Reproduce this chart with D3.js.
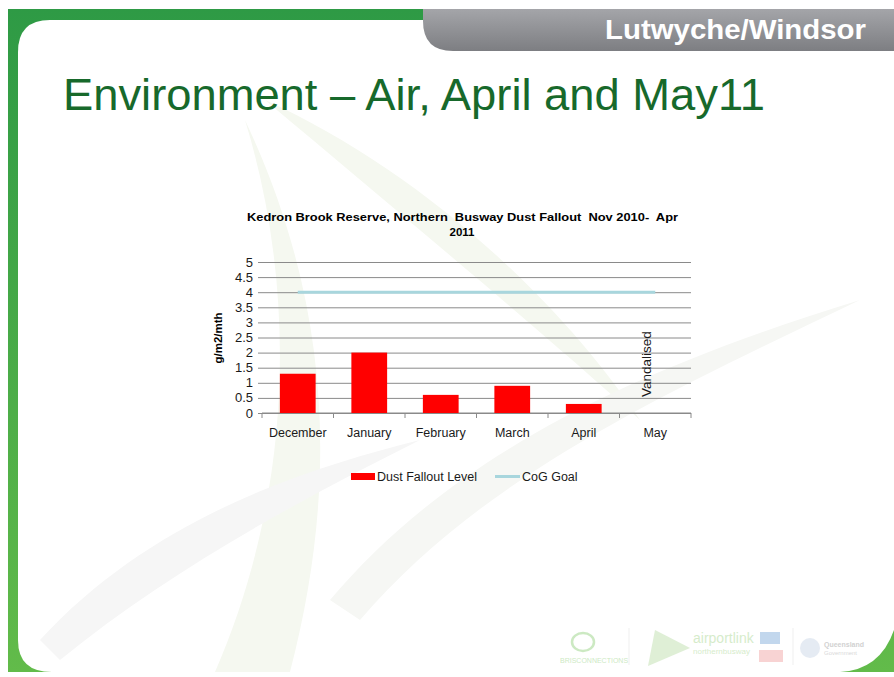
<!doctype html>
<html>
<head>
<meta charset="utf-8"/>
<title>Environment – Air, April and May11</title>
<script src="https://d3js.org/d3.v7.min.js"></script>
<style>
  body { margin: 0; background: #fff; }
  svg text { font-family: "Liberation Sans", Arial, sans-serif; }
</style>
</head>
<body>
<div id="slide"></div>
<script>
// chart data
var months = ["December", "January", "February", "March", "April", "May"];
var dust = [1.3, 2.0, 0.6, 0.9, 0.3, null];
var goal = [4, 4, 4, 4, 4, 4];
var yTicks = [0, 0.5, 1, 1.5, 2, 2.5, 3, 3.5, 4, 4.5, 5];
var notes = ["", "", "", "", "", "Vandalised"];

var W = 894, H = 677;
var svg = d3.select("#slide").append("svg")
    .attr("width", W)
    .attr("height", H);

// ---- slide background ----
var defs = svg.append("defs");
var gGreen = defs.append("linearGradient").attr("id", "gGreen")
    .attr("x1", 0).attr("y1", 0).attr("x2", 0).attr("y2", 1);
gGreen.append("stop").attr("offset", 0).attr("stop-color", "#2e9a45");
gGreen.append("stop").attr("offset", 1).attr("stop-color", "#62bb4a");
var gTab = defs.append("linearGradient").attr("id", "gTab")
    .attr("x1", 0).attr("y1", 0).attr("x2", 0).attr("y2", 1);
gTab.append("stop").attr("offset", 0).attr("stop-color", "#a4a5a9");
gTab.append("stop").attr("offset", 1).attr("stop-color", "#7d7e82");

svg.append("rect").attr("x", 8).attr("y", 9).attr("width", W - 8).attr("height", 663)
    .attr("fill", "url(#gGreen)");
// white inner panel
svg.append("path")
    .attr("d", "M18,52 Q18,20 50,20 L894,20 L894,630 Q880,670 840,672 L52,672 Q18,672 18,640 Z")
    .attr("fill", "#fff");

// faint leaf swooshes
var swoosh = svg.append("g").attr("fill", "#f5f8f0");
swoosh.append("path")
    .attr("d", "M245,120 C300,300 290,500 215,672 L290,672 C340,480 330,300 245,120 Z");
swoosh.append("path")
    .attr("d", "M265,100 C420,170 560,300 640,420 C540,330 420,230 265,100 Z");
swoosh.append("path")
    .attr("d", "M40,640 C150,520 300,470 420,440 C300,500 170,570 60,660 Z")
    .attr("fill", "#f6f6f6");
swoosh.append("path")
    .attr("d", "M330,600 C440,470 600,380 860,300 C650,400 480,480 360,620 Z")
    .attr("fill", "#f6f7f4");

// grey tab top right
svg.append("path")
    .attr("d", "M423,9 L894,9 L894,51 L453,51 Q423,51 423,21 Z")
    .attr("fill", "url(#gTab)");
svg.append("text")
    .attr("x", 605).attr("y", 39)
    .attr("fill", "#fff")
    .attr("font-size", 27).attr("font-weight", "bold")
    .attr("textLength", 261).attr("lengthAdjust", "spacingAndGlyphs")
    .text("Lutwyche/Windsor");

// slide title
svg.append("text")
    .attr("x", 63).attr("y", 110)
    .attr("fill", "#17692b")
    .attr("font-size", 44)
    .attr("textLength", 702).attr("lengthAdjust", "spacingAndGlyphs")
    .style("font-family", "'Liberation Sans Narrow', 'Arial Narrow', 'Liberation Sans', sans-serif")
    .text("Environment – Air, April and May11");

// footer logos (faint)
var foot = svg.append("g").attr("opacity", 0.45);
foot.append("ellipse").attr("cx", 583).attr("cy", 642).attr("rx", 11).attr("ry", 9)
    .attr("fill", "none").attr("stroke", "#8fcf7a").attr("stroke-width", 2.5);
foot.append("text").attr("x", 560).attr("y", 663).attr("font-size", 7)
    .attr("fill", "#8fcf7a").text("BRISCONNECTIONS");
foot.append("line").attr("x1", 629).attr("y1", 628).attr("x2", 629).attr("y2", 665)
    .attr("stroke", "#ddd");
foot.append("path").attr("d", "M648,666 L655,630 L690,648 Z").attr("fill", "#b9dca5");
foot.append("text").attr("x", 693).attr("y", 643).attr("font-size", 14)
    .attr("fill", "#a5d58c").text("airportlink");
foot.append("text").attr("x", 693).attr("y", 654).attr("font-size", 8)
    .attr("fill", "#a5d58c").text("northernbusway");
foot.append("rect").attr("x", 760).attr("y", 632).attr("width", 20).attr("height", 12)
    .attr("fill", "#7aa8d8");
foot.append("rect").attr("x", 759).attr("y", 650).attr("width", 24).attr("height", 12)
    .attr("fill", "#f0a0a0");
foot.append("line").attr("x1", 793).attr("y1", 628).attr("x2", 793).attr("y2", 665)
    .attr("stroke", "#ddd");
foot.append("circle").attr("cx", 810).attr("cy", 648).attr("r", 10).attr("fill", "#c7d4e6");
foot.append("text").attr("x", 824).attr("y", 647).attr("font-size", 7).attr("font-weight", "bold")
    .attr("fill", "#999").text("Queensland");
foot.append("text").attr("x", 824).attr("y", 655).attr("font-size", 6)
    .attr("fill", "#aaa").text("Government");

// ---- chart ----
var x = d3.scaleBand().domain(months).range([262, 691])
    .paddingInner(0.5).paddingOuter(0.25);
var y = d3.scaleLinear().domain([0, 5]).range([413, 262]);

var chart = svg.append("g");

// gridlines
chart.append("g")
    .attr("transform", "translate(262,0)")
    .call(d3.axisLeft(y).tickValues(yTicks).tickSize(-429).tickSizeOuter(0).tickFormat(""))
    .call(function(g) {
        g.select(".domain").remove();
        g.selectAll("line").attr("stroke", "#8a8a8a").attr("x1", -4);
    });

// y tick labels
chart.append("g")
    .selectAll("text").data(yTicks).join("text")
    .attr("x", 253).attr("y", function(d) { return y(d) + 4.5; })
    .attr("text-anchor", "end")
    .attr("font-size", 13).attr("fill", "#1a1a1a")
    .text(function(d) { return d; });

// x axis
var xAxis = chart.append("g").attr("transform", "translate(0,413)");
xAxis.append("line").attr("x1", 262).attr("x2", 691).attr("y1", 0).attr("y2", 0)
    .attr("stroke", "#8a8a8a");
xAxis.selectAll("line.tk").data(months.concat(["end"])).join("line")
    .attr("class", "tk")
    .attr("x1", function(d, i) { return i < months.length ? x(d) - x.step() * 0.25 : 691; })
    .attr("x2", function(d, i) { return i < months.length ? x(d) - x.step() * 0.25 : 691; })
    .attr("y1", 0).attr("y2", 5)
    .attr("stroke", "#8a8a8a");
xAxis.selectAll("text").data(months).join("text")
    .attr("x", function(d) { return x(d) + x.bandwidth() / 2; })
    .attr("y", 24)
    .attr("text-anchor", "middle")
    .attr("font-size", 12.5).attr("fill", "#1a1a1a")
    .text(function(d) { return d; });

// bars
chart.append("g").selectAll("rect")
    .data(months.map(function(m, i) { return { m: m, v: dust[i] }; })
        .filter(function(d) { return d.v != null; }))
    .join("rect")
    .attr("x", function(d) { return x(d.m); })
    .attr("y", function(d) { return y(d.v); })
    .attr("width", x.bandwidth())
    .attr("height", function(d) { return y(0) - y(d.v); })
    .attr("fill", "#ff0000");

// goal line
var line = d3.line()
    .x(function(d, i) { return x(months[i]) + x.bandwidth() / 2; })
    .y(function(d) { return y(d); });
chart.append("path").datum(goal)
    .attr("d", line)
    .attr("fill", "none")
    .attr("stroke", "#a8d6dd")
    .attr("stroke-width", 3);

// notes (Vandalised)
chart.append("g").selectAll("text")
    .data(months.map(function(m, i) { return { m: m, t: notes[i] }; })
        .filter(function(d) { return d.t; }))
    .join("text")
    .attr("transform", function(d) {
        return "translate(" + (x(d.m) + x.bandwidth() / 2 - 4) + "," + (y(0) - 16) + ") rotate(-90)";
    })
    .attr("font-size", 13.5).attr("fill", "#1a1a1a")
    .text(function(d) { return d.t; });

// chart title
chart.append("text")
    .attr("x", 247).attr("y", 221)
    .attr("font-size", 11.5).attr("font-weight", "bold")
    .attr("textLength", 431).attr("lengthAdjust", "spacingAndGlyphs")
    .attr("xml:space", "preserve")
    .style("white-space", "pre")
    .text("Kedron Brook Reserve, Northern  Busway Dust Fallout  Nov 2010-  Apr");
chart.append("text")
    .attr("x", 462).attr("y", 236)
    .attr("text-anchor", "middle")
    .attr("font-size", 11.5).attr("font-weight", "bold")
    .text("2011");

// y axis title
chart.append("text")
    .attr("transform", "translate(222,338) rotate(-90)")
    .attr("text-anchor", "middle")
    .attr("font-size", 11.5).attr("font-weight", "bold")
    .text("g/m2/mth");

// legend
var leg = chart.append("g");
leg.append("rect").attr("x", 351).attr("y", 473).attr("width", 24).attr("height", 7)
    .attr("fill", "#ff0000");
leg.append("text").attr("x", 377).attr("y", 481).attr("font-size", 12.5)
    .attr("fill", "#1a1a1a").text("Dust Fallout Level");
leg.append("line").attr("x1", 495).attr("x2", 520).attr("y1", 476.5).attr("y2", 476.5)
    .attr("stroke", "#a8d6dd").attr("stroke-width", 3);
leg.append("text").attr("x", 522).attr("y", 481).attr("font-size", 12.5)
    .attr("fill", "#1a1a1a").text("CoG Goal");
</script>
</body>
</html>
